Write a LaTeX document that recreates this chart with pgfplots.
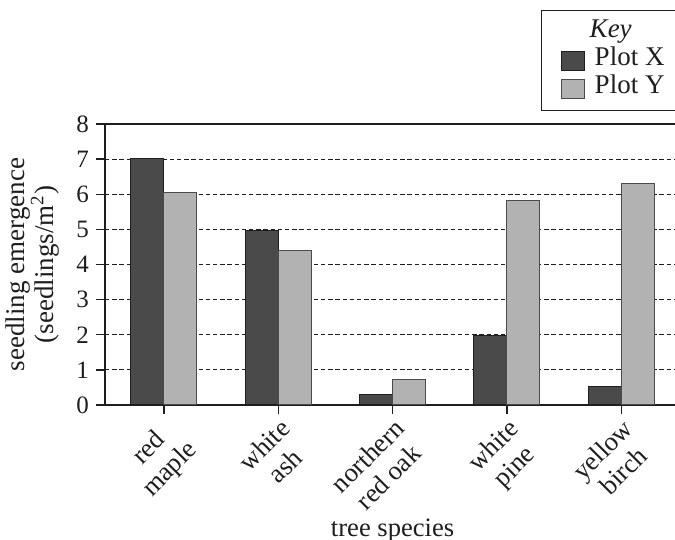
\documentclass[border=0pt]{standalone}
\usepackage{fontspec}
\setmainfont{Liberation Serif}
\usepackage{pgfplots}
\pgfplotsset{compat=1.18}
\definecolor{barX}{HTML}{4A4A4A}
\definecolor{barY}{HTML}{B2B2B2}
\definecolor{ink}{HTML}{1E1E1E}
\begin{document}
\begin{tikzpicture}[font=\fontsize{13.5}{15}\selectfont]
\begin{axis}[
  at={(52.5pt,67.5pt)}, anchor=south west,
  width=285pt, height=140.5pt, scale only axis,
  xmin=-0.516, xmax=4.47, ymin=0, ymax=8,
  axis lines=left, axis line style={-, ink, line width=0.7pt},
  ybar=0pt, bar width=16.5pt,
  xtick={0,1,2,3,4},
  xticklabels={{red\\maple},{white\\ash},{northern\\red oak},{white\\pine},{yellow\\birch}},
  xticklabel style={rotate=45, anchor=north east, align=center, inner sep=1pt, ink, font=\fontsize{13.3}{14.8}\selectfont},
  ytick={0,...,7}, extra y ticks={8},
  extra y tick style={grid style={solid, ink, line width=0.7pt}},
  ymajorgrids, grid style={ink, dash pattern=on 2.2pt off 1.4pt, line width=0.6pt},
  tick align=outside, major tick length=4.5pt, tick style={ink, line width=0.7pt},
  /pgf/number format/assume math mode=true,
  yticklabel style={font=\fontsize{12.5}{14}\selectfont, ink},
  ylabel={seedling emergence\\(seedlings/m\textsuperscript{2})},
  ylabel style={at={(axis description cs:-0.079,0.5)}, anchor=south, align=center, ink, inner sep=0pt, font=\fontsize{13.5}{14.5}\selectfont},
  xlabel={tree species},
  xlabel style={at={(axis description cs:0.5046,0)}, anchor=base, yshift=-66pt, ink, inner sep=0pt, font=\fontsize{13.3}{15}\selectfont},
  legend style={at={(axis description cs:0.765,1.406)}, anchor=north west, draw=ink, line width=0.7pt, fill=white, text=ink,
    inner xsep=0pt, inner ysep=4pt, row sep=0pt, column sep=0pt,
    nodes={inner sep=0pt, text height=9.5pt, text depth=4.5pt}, font=\fontsize{13.5}{15}\selectfont},
  legend cell align=left,
  legend image code/.code={\path (0pt,0pt) (26pt,0pt); \draw[#1, line width=0.4pt] (9.5pt,-4.75pt) rectangle (21pt,4.75pt);},
]
\addlegendimage{empty legend}
\addlegendentry{\makebox[52pt][l]{\hspace*{-2.5pt}\textit{Key}}}
\addplot[fill=barX, draw=ink, line width=0.5pt] coordinates {(0,7.02) (1,4.98) (2,0.30) (3,1.99) (4,0.53)};
\addlegendentry{Plot X}
\addplot[fill=barY, draw=ink!80, line width=0.5pt] coordinates {(0,6.05) (1,4.40) (2,0.73) (3,5.82) (4,6.32)};
\addlegendentry{Plot Y}
\end{axis}
\pgfresetboundingbox
\path[use as bounding box] (0,0) rectangle (337.5pt,270pt);
\end{tikzpicture}
\end{document}
